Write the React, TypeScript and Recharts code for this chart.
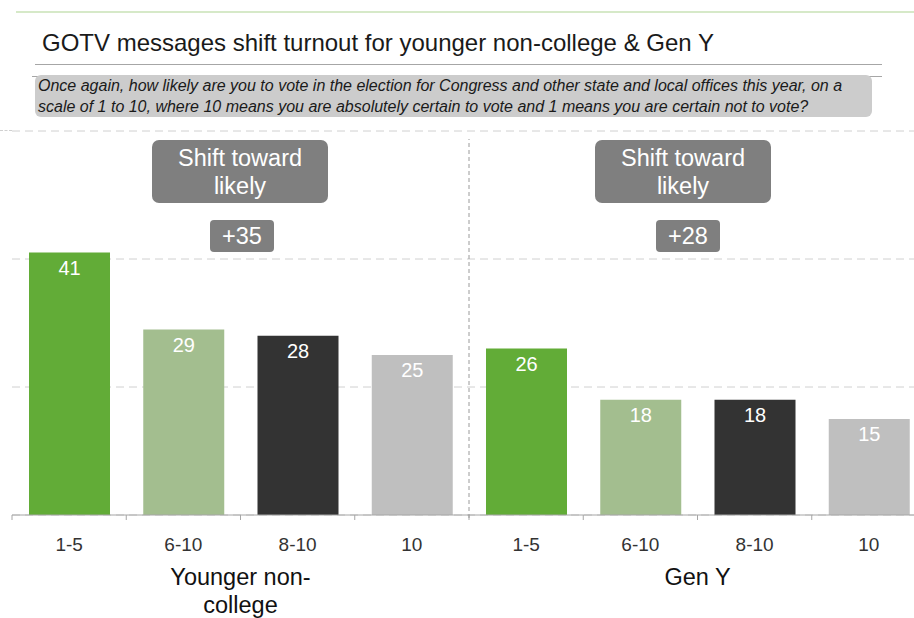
import React from "react";
import { BarChart, Bar, XAxis, YAxis, CartesianGrid, Cell, LabelList } from "recharts";

// ---- data ----
const groups = ["Younger non-college", "Gen Y"];
const groupLabelLines = [["Younger non-", "college"], ["Gen Y"]];
const categories = ["1-5", "6-10", "8-10", "10"];
const youngerNonCollege = [41, 29, 28, 25];
const genY = [26, 18, 18, 15];
const shifts = ["+35", "+28"];
const yTicks = [0, 20, 40, 60];

const title = "GOTV messages shift turnout for younger non-college & Gen Y";
const questionLines = [
  "Once again, how likely are you to vote in the election for Congress and other state and local offices this year, on a",
  "scale of 1 to 10, where 10 means you are absolutely certain to vote and 1 means you are certain not to vote?",
];
const shiftLabel = ["Shift toward", "likely"];

const catColors = ["#62ac37", "#a3be8f", "#333333", "#bfbfbf"];

const seriesByGroup = [youngerNonCollege, genY];
const data = groups.flatMap((g, gi) =>
  categories.map((c, ci) => ({
    key: `${g}|${c}`,
    cat: c,
    group: gi,
    ci,
    value: seriesByGroup[gi][ci],
  }))
);

// ---- layout ----
const CHART_W = 940;
const CHART_H = 618;
const PLOT_LEFT = 12;
const PLOT_RIGHT = 926;
const PLOT_TOP = 131;
const AXIS_Y = 515;
const XAXIS_H = 30;
const BAND = (PLOT_RIGHT - PLOT_LEFT) / data.length;
const FONT = "'Liberation Sans', Arial, sans-serif";

const CustomTick = (props: any) => {
  const { x, y, index, payload } = props;
  const d = data[index];
  const els: React.ReactNode[] = [];
  els.push(
    <line key="tl" x1={x - BAND / 2} x2={x - BAND / 2} y1={y} y2={y + 5} stroke="#a6a6a6" />
  );
  if (index === data.length - 1) {
    els.push(
      <line key="tr" x1={x + BAND / 2} x2={x + BAND / 2} y1={y} y2={y + 5} stroke="#a6a6a6" />
    );
  }
  els.push(
    <text key="t" x={x} y={y + 36} textAnchor="middle" fontSize={19} fill="#333" fontFamily={FONT}>
      {payload.value}
    </text>
  );
  if (d && d.ci === 0 && d.group > 0) {
    els.push(
      <line
        key="div"
        x1={x - BAND / 2}
        x2={x - BAND / 2}
        y1={y + 3}
        y2={PLOT_TOP + 8}
        stroke="#9a9a9a"
        strokeDasharray="4 3"
      />
    );
  }
  if (d && d.ci === 1) {
    const lines = groupLabelLines[d.group];
    els.push(
      <text key="g" x={x + BAND / 2} y={y + 70} textAnchor="middle" fontSize={23.5} fill="#111" fontFamily={FONT}>
        {lines.map((l, i) => (
          <tspan key={i} x={x + BAND / 2} dy={i === 0 ? 0 : 28}>
            {l}
          </tspan>
        ))}
      </text>
    );
  }
  return <g>{els}</g>;
};

const annotationCenters = [240, 683];

export default function App() {
  return (
    <div
      style={{
        position: "absolute",
        left: 0,
        top: 0,
        width: 914,
        height: 618,
        overflow: "hidden",
        background: "#fff",
        fontFamily: FONT,
      }}
    >
      <div style={{ position: "absolute", left: 16, top: 11, width: 898, height: 2, background: "#d6e9c8" }} />
      <div
        style={{
          position: "absolute",
          left: 42,
          top: 29,
          fontSize: 24,
          color: "#1a1a1a",
          whiteSpace: "nowrap",
          lineHeight: "28px",
        }}
      >
        {title}
      </div>
      <div style={{ position: "absolute", left: 35, top: 64, width: 847, height: 1, background: "#a6a6a6" }} />
      <div style={{ position: "absolute", left: 32, top: 76, width: 850, height: 1, background: "#a6a6a6" }} />
      <div
        style={{
          position: "absolute",
          left: 35,
          top: 75,
          width: 837,
          height: 42,
          background: "#cccccc",
          borderRadius: 6,
          boxSizing: "border-box",
          padding: "1px 3px",
          fontSize: 16,
          fontStyle: "italic",
          lineHeight: "20.5px",
          color: "#1a1a1a",
          whiteSpace: "nowrap",
        }}
      >
        {questionLines.map((l, i) => (
          <div key={i}>{l}</div>
        ))}
      </div>

      <div style={{ position: "absolute", left: 0, top: 0 }}>
        <BarChart
          width={CHART_W}
          height={CHART_H}
          data={data}
          margin={{ top: PLOT_TOP, left: PLOT_LEFT, right: CHART_W - PLOT_RIGHT, bottom: CHART_H - AXIS_Y - XAXIS_H }}
        >
          <CartesianGrid vertical={false} stroke="#d0d0d0" strokeDasharray="8 5" />
          <YAxis hide domain={[0, 60]} ticks={yTicks} />
          <XAxis
            dataKey="cat"
            height={XAXIS_H}
            interval={0}
            tickLine={false}
            tickSize={0}
            tickMargin={0}
            axisLine={{ stroke: "#a6a6a6" }}
            tick={(p: any) => <CustomTick {...p} />}
          />
          <Bar dataKey="value" barSize={81} isAnimationActive={false}>
            {data.map((d) => (
              <Cell key={d.key} fill={catColors[d.ci]} />
            ))}
            <LabelList
              dataKey="value"
              position="insideTop"
              offset={8}
              fill="#ffffff"
              fontSize={20}
              fontFamily={FONT}
            />
          </Bar>
        </BarChart>
      </div>
      <div
        style={{
          position: "absolute",
          left: 0,
          top: PLOT_TOP - 1,
          width: PLOT_LEFT,
          height: 0,
          borderTop: "1px dashed #d0d0d0",
        }}
      />

      {annotationCenters.map((cx, i) => (
        <React.Fragment key={i}>
          <div
            style={{
              position: "absolute",
              left: cx - 88,
              top: 140,
              width: 176,
              height: 63,
              background: "#7f7f7f",
              borderRadius: 7,
              color: "#fff",
              fontSize: 23.5,
              lineHeight: "28px",
              textAlign: "center",
              boxSizing: "border-box",
              paddingTop: 4,
            }}
          >
            {shiftLabel[0]}
            <br />
            {shiftLabel[1]}
          </div>
          <div
            style={{
              position: "absolute",
              left: cx + (i === 0 ? 2 : 5) - 32,
              top: 220,
              width: 64,
              height: 32,
              background: "#7f7f7f",
              borderRadius: 4,
              color: "#fff",
              fontSize: 23.5,
              lineHeight: "32px",
              textAlign: "center",
            }}
          >
            {shifts[i]}
          </div>
        </React.Fragment>
      ))}
    </div>
  );
}
